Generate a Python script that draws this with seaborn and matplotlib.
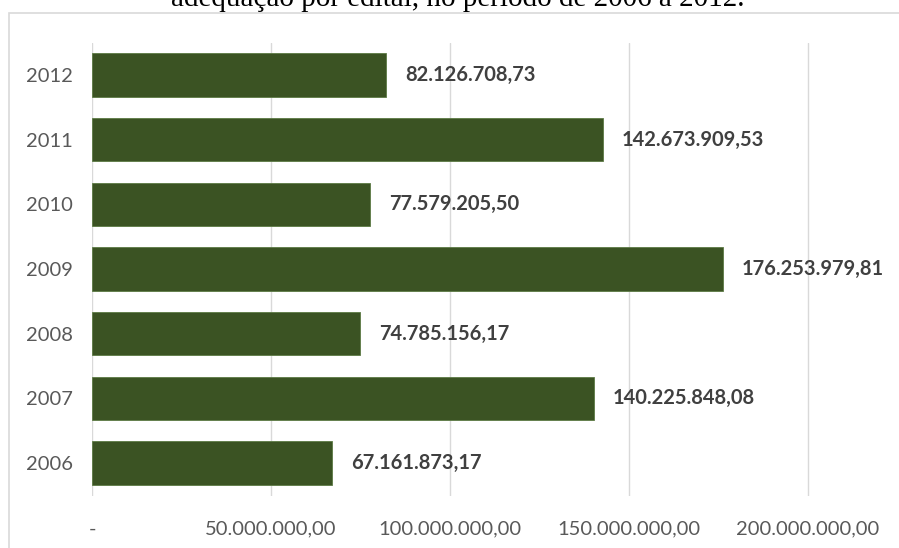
import matplotlib
matplotlib.use("Agg")
import matplotlib.pyplot as plt
import matplotlib.patches as mpatches
import seaborn as sns
import pandas as pd

years = ["2012", "2011", "2010", "2009", "2008", "2007", "2006"]
values = [82126708.73, 142673909.53, 77579205.50, 176253979.81,
          74785156.17, 140225848.08, 67161873.17]
tick_values = [0, 50_000_000, 100_000_000, 150_000_000, 200_000_000]
tick_labels = ["-", "50.000.000,00", "100.000.000,00", "150.000.000,00", "200.000.000,00"]
title_text = "adequação por edital, no período de 2006 a 2012."


def br_money(v):
    s = f"{v:,.2f}"
    return s.replace(",", "X").replace(".", ",").replace("X", ".")


sns.set_theme(style="white")
plt.rcParams["font.family"] = ["Lato", "DejaVu Sans"]

df = pd.DataFrame({"ano": years, "valor": values})

fig = plt.figure(figsize=(8.99, 5.48), dpi=100)
W, H = 899, 548

# outer chart frame
fig.patches.append(mpatches.Rectangle((9 / W, -0.1), 1.2, 1.1 - 13 / H,
                                      transform=fig.transFigure, fill=False,
                                      edgecolor="#D9D9D9", linewidth=1.2))

ax = fig.add_axes([92 / W, 1 - 495.5 / H, (W - 92) / W + 0.01, (495.5 - 42.5) / H])

sns.barplot(data=df, x="valor", y="ano", order=years, orient="h",
            color="#3B5323", saturation=1, width=0.67, ax=ax,
            edgecolor="#5C7A44", linewidth=0.6)

ax.set_xlim(0, 50_000_000 * (W - 92 + 9) / 179)
ax.set_ylim(6.5, -0.5)
ax.set_xticks(tick_values)
ax.set_xticklabels(tick_labels)
ax.xaxis.grid(True, color="#D9D9D9", linewidth=1)
ax.set_axisbelow(True)
for s in ax.spines.values():
    s.set_visible(False)
ax.set_xlabel("")
ax.set_ylabel("")
ax.tick_params(axis="both", length=0, labelsize=14.5, labelcolor="#595959")
ax.tick_params(axis="x", pad=18)
ax.tick_params(axis="y", pad=14)

for i, v in enumerate(values):
    ax.annotate(br_money(v), xy=(v, i), xytext=(19, 0), textcoords="offset pixels",
                va="center", ha="left", fontsize=14.5, fontweight="bold",
                color="#404040")

fig.text(458 / W, 1 - 6 / H, title_text, ha="center", va="baseline",
         fontsize=21, family=["Liberation Serif", "DejaVu Serif"], color="black")

fig.savefig("out.png", dpi=100)
